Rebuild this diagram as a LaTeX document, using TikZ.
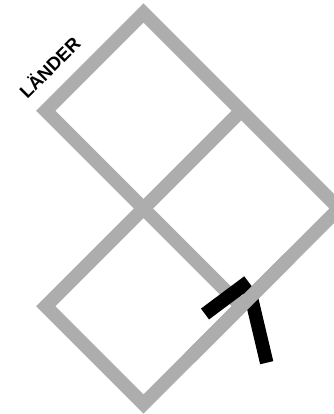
\documentclass[tikz,border=0pt]{standalone}
\usepackage{fontspec}
\setmainfont{Liberation Sans}
\definecolor{framegray}{RGB}{173,173,173}
\tikzset{
  frameline/.style={draw=framegray, line width=13.5pt, line join=miter, line cap=butt},
  blackbar/.style={draw=black, line width=13.5pt, line cap=butt},
  lbl/.style={font=\fontsize{18.5}{22}\selectfont\bfseries, rotate=45, inner sep=0pt}
}
\begin{document}
\begin{tikzpicture}[x=1pt,y=1pt]
\useasboundingbox (0,0) rectangle (333,414);
\coordinate (T) at (143.5,401);
\coordinate (L1) at (45.75,303.25);
\coordinate (C) at (143.5,205.5);
\coordinate (R1) at (241.25,303.25);
\coordinate (R2) at (339,205.5);
\coordinate (R3) at (241.25,107.75);
\coordinate (B) at (143.5,10);
\coordinate (L2) at (45.75,107.75);
% frame
\draw[frameline] (T) -- (R2) -- (B) -- (L2) -- (C) -- (L1) -- cycle;
\draw[frameline] (C) -- (R1);
\draw[frameline] (C) -- (R3);
% black bars
\coordinate (b1a) at (205,100);
\coordinate (b1b) at (248.3,132.3);
\coordinate (b2a) at (249.5,124);
\coordinate (b2b) at (266.7,51.3);
\draw[blackbar] (b1a) -- (b1b);
\draw[blackbar] (b2a) -- (b2b);
% outer edge over the bars
\coordinate (e1) at (290,156.5);
\coordinate (e2) at (190,56.5);
\draw[frameline] (e1) -- (e2);
% label
\node[lbl] (label) at (49,347) {LÄNDER};
\end{tikzpicture}
\end{document}
